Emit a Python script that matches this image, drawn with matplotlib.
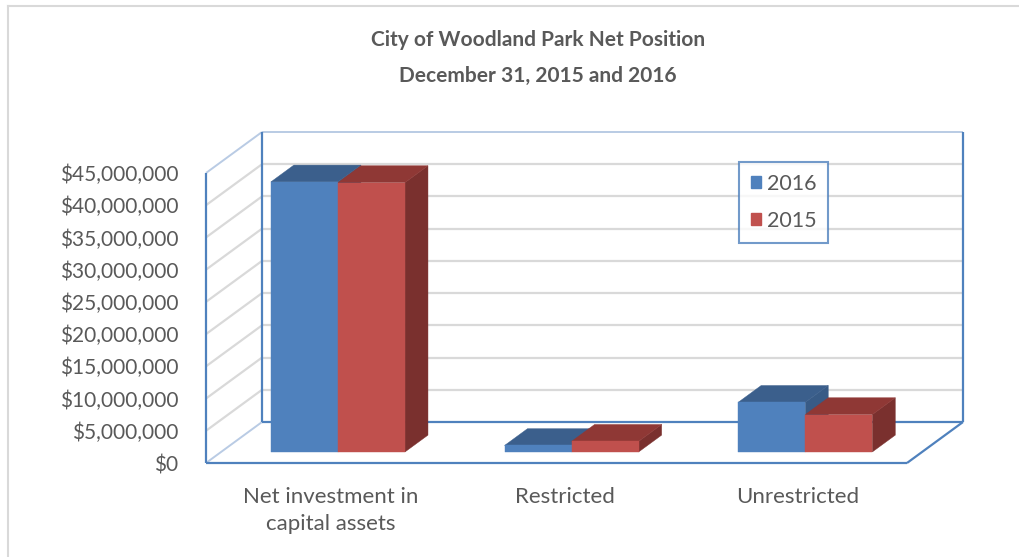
import matplotlib
matplotlib.use("Agg")
import matplotlib.pyplot as plt
from matplotlib.patches import Polygon, Patch
from matplotlib.lines import Line2D
from matplotlib.transforms import ScaledTranslation

# ---------------- data ----------------
categories = ["Net investment in\ncapital assets", "Restricted", "Unrestricted"]
series_names = ["2016", "2015"]
values_2016 = [41.9e6, 1.0e6, 7.7e6]
values_2015 = [41.8e6, 1.65e6, 5.8e6]
yticks = [0, 5e6, 10e6, 15e6, 20e6, 25e6, 30e6, 35e6, 40e6, 45e6]
ytick_labels = ["$0", "$5,000,000", "$10,000,000", "$15,000,000", "$20,000,000",
                "$25,000,000", "$30,000,000", "$35,000,000", "$40,000,000", "$45,000,000"]
title = "City of Woodland Park Net Position\nDecember 31, 2015 and 2016"

# ---------------- style ----------------
FRONT = ["#4F81BD", "#C0504D"]
TOP = ["#3B5F8C", "#8F3835"]
SIDE = ["#385B86", "#7A302E"]
WALL = "#4F81BD"
WALL_LIGHT = "#B9CBE4"
GRID = "#D9D9D9"
TEXT = "#595959"
FONT = ["Lato", "DejaVu Sans"]
plt.rcParams["font.family"] = FONT

W_PX, H_PX = 1019, 557
fig = plt.figure(figsize=(W_PX / 100, H_PX / 100), dpi=100)
fig.patch.set_facecolor("white")

# front plane of the 3-D box
left, right, bottom, top = 206, 907, 463, 173
ax = fig.add_axes([left / W_PX, (H_PX - bottom) / H_PX,
                   (right - left) / W_PX, (bottom - top) / H_PX])
ax.set_xlim(-0.5, len(categories) - 0.5)
ax.set_ylim(0, 45e6)
ax.patch.set_visible(False)
for s in ax.spines.values():
    s.set_visible(False)

# depth vector (pixels -> data units)
DEPTH_PX = (56, 41)
px_per_x = (right - left) / (len(categories))
px_per_y = (bottom - top) / 45e6
DX = DEPTH_PX[0] / px_per_x
DY = DEPTH_PX[1] / px_per_y
x_lo, x_hi = -0.5, len(categories) - 0.5
ymax = yticks[-1]


def line(xs, ys, color, lw, z=1):
    ax.add_line(Line2D(xs, ys, color=color, lw=lw, clip_on=False, zorder=z,
                       solid_capstyle="butt"))


# back wall grid + side wall diagonals
for v in yticks[1:-1]:
    line([x_lo + DX, x_hi + DX], [v + DY, v + DY], GRID, 1.6)
    line([x_lo, x_lo + DX], [v, v + DY], GRID, 1.6)
line([x_lo + DX, x_hi + DX], [ymax + DY, ymax + DY], WALL_LIGHT, 1.4)
line([x_lo, x_lo + DX], [ymax, ymax + DY], WALL_LIGHT, 1.4)
line([x_lo, x_lo + DX], [0, DY], WALL_LIGHT, 1.4)
# back wall borders
line([x_lo + DX, x_lo + DX], [DY, ymax + DY], WALL, 1.6)
line([x_hi + DX, x_hi + DX], [DY, ymax + DY], WALL, 1.6)
line([x_lo + DX, x_hi + DX], [DY, DY], WALL, 1.6)
# floor and front-left edges
line([x_lo, x_lo], [0, ymax], WALL, 1.6, 1)
line([x_lo, x_hi], [0, 0], WALL, 1.6, 1)
line([x_hi, x_hi + DX], [0, DY], WALL, 1.6, 1)

# ---------------- 3-D bars ----------------
BW = 0.287
D0, D1 = 0.27, 0.68
z = 3
for i in range(len(categories)):
    for s, vals in enumerate([values_2016, values_2015]):
        v = vals[i]
        x0 = i - BW + s * BW
        x1 = x0 + BW
        a0x, a0y = D0 * DX, D0 * DY
        a1x, a1y = D1 * DX, D1 * DY
        side = [(x1 + a0x, a0y), (x1 + a1x, a1y), (x1 + a1x, v + a1y), (x1 + a0x, v + a0y)]
        topf = [(x0 + a0x, v + a0y), (x1 + a0x, v + a0y), (x1 + a1x, v + a1y), (x0 + a1x, v + a1y)]
        front = [(x0 + a0x, a0y), (x1 + a0x, a0y), (x1 + a0x, v + a0y), (x0 + a0x, v + a0y)]
        for pts, col in ((side, SIDE[s]), (topf, TOP[s]), (front, FRONT[s])):
            ax.add_patch(Polygon(pts, closed=True, facecolor=col, edgecolor=col,
                                 lw=0.3, clip_on=False, zorder=z))
            z += 1

# ---------------- ticks ----------------
ax.set_yticks(yticks)
ax.set_yticklabels(ytick_labels)
ax.tick_params(axis="y", length=0, pad=20, labelsize=15, labelcolor=TEXT)
ax.set_xticks(range(len(categories)))
ax.set_xticklabels(categories, linespacing=1.45)
ax.tick_params(axis="x", length=0, pad=17, labelsize=16, labelcolor=TEXT)
for lab in ax.get_xticklabels():
    lab.set_transform(lab.get_transform() + ScaledTranslation(0.08, 0, fig.dpi_scale_trans))

# ---------------- title ----------------
fig.text(538 / W_PX, 1 - 58 / H_PX, title, ha="center", va="center",
         fontsize=15, fontweight="bold", color=TEXT, linespacing=1.95)

# ---------------- legend ----------------
handles = [Patch(facecolor=FRONT[0], edgecolor=FRONT[0]),
           Patch(facecolor=FRONT[1], edgecolor=FRONT[1])]
leg = fig.legend(handles, series_names, loc="upper left",
                 bbox_to_anchor=(739 / W_PX, 1 - 162 / H_PX),
                 frameon=True, fancybox=False, fontsize=15.5,
                 handlelength=0.47, handleheight=0.47, handletextpad=0.28,
                 labelspacing=0.8, borderpad=0.55, borderaxespad=0)
leg.get_frame().set_edgecolor(WALL)
leg.get_frame().set_linewidth(1.5)
for t in leg.get_texts():
    t.set_color(TEXT)

# outer chart border (top and left visible)
fig.add_artist(Line2D([8 / W_PX, 1.0], [1 - 6 / H_PX, 1 - 6 / H_PX],
                      transform=fig.transFigure, color=GRID, lw=1.5))
fig.add_artist(Line2D([8 / W_PX, 8 / W_PX], [0, 1 - 6 / H_PX],
                      transform=fig.transFigure, color=GRID, lw=1.5))

fig.savefig("out.png", dpi=100, facecolor="white")
